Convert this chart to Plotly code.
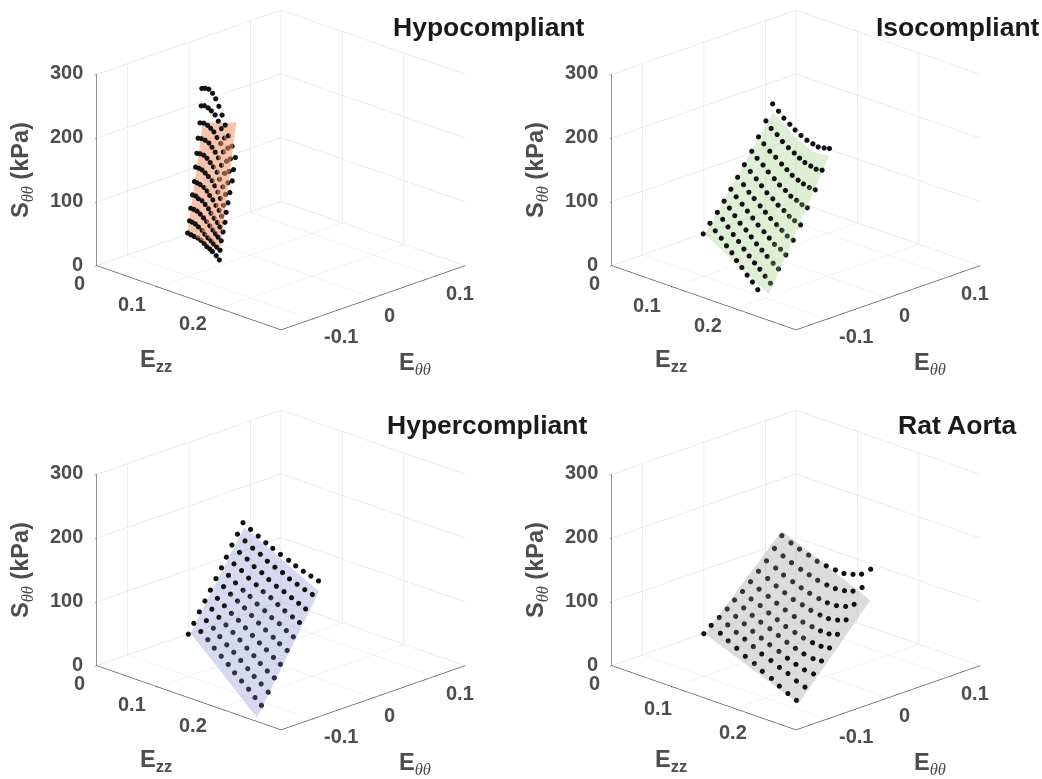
import plotly.graph_objects as go

W, H = 1042, 779
# Circumferential strain is stored in thousandths, stress in kPa.
hypo_ezz = [0.075,0.0802,0.0853,0.0905,0.0956,0.1008,0.106,0.1111,0.1163,0.1214,0.1266]
hypo_ett = [[-77,-77,-77,-76,-76,-76,-77,-77,-78,-77,-77],
[-74,-75,-75,-75,-74,-75,-75,-75,-76,-76,-76],
[-72,-72,-72,-72,-72,-72,-72,-72,-73,-74,-74],
[-69,-69,-70,-69,-69,-69,-70,-70,-70,-71,-71],
[-66,-67,-67,-66,-66,-67,-67,-67,-67,-68,-68],
[-64,-64,-64,-64,-64,-63,-64,-64,-65,-65,-66],
[-62,-62,-61,-61,-61,-61,-60,-61,-61,-62,-63],
[-60,-60,-59,-58,-58,-58,-58,-58,-58,-58,-60],
[-57,-56,-55,-55,-55,-55,-54,-55,-55,-56,-56],
[-55,-55,-54,-54,-53,-53,-53,-53,-53,-54,-54],
[-54,-54,-53,-52,-52,-52,-52,-52,-52,-51,-51]]
hypo_s = [[52,51,50,49,47,44,41,39,37,32,27],
[70,70,69,66,62,58,54,51,48,45,42],
[89,89,88,85,81,77,72,67,63,60,56],
[109,109,107,105,101,96,91,85,80,75,69],
[129,129,128,125,121,116,111,104,98,91,83],
[151,151,150,147,143,138,132,124,116,107,98],
[172,173,172,169,164,159,152,143,133,123,112],
[195,196,195,192,187,181,174,164,153,140,127],
[218,219,217,214,210,203,195,184,171,157,144],
[244,246,244,241,236,228,218,205,191,176,161],
[271,273,273,268,261,251,239,225,210,195,179]]
hypo_surf_ezz = [[0.075,0.127],[0.075,0.127]]
hypo_surf_ett = [[-77,-76],[-52,-50]]
hypo_surf_s = [[53,41],[217,234]]

iso_ezz = [0.0999,0.1085,0.1172,0.1258,0.1345,0.1431,0.1517,0.1604,0.169,0.1777,0.1863]
iso_ett = [[-101],
[-90,-90,-89,-89,-89,-90,-90,-90,-90,-90],
[-78,-78,-78,-78,-78,-78,-78,-78,-78,-78,-78],
[-67,-67,-67,-67,-66,-66,-66,-66,-66,-65,-65],
[-56,-56,-55,-55,-55,-55,-54,-54,-54,-53,-53],
[-45,-44,-44,-44,-43,-43,-43,-42,-42,-42,-41],
[-34,-33,-32,-32,-32,-31,-31,-30,-30,-30,-29],
[-22,-22,-21,-21,-20,-20,-19,-19,-18,-18,-18],
[-11,-11,-10,-9,-8,-8,-8,-7,-7,-6,-5],
[1,1,2,2,3,4,4,4,5,5,6],
[12,13,13,14,14,15,16,17,17,18,18]]
iso_s = [[67],
[80,71,62,53,45,36,28,19,11,2],
[93,85,76,67,59,50,42,34,27,19,11],
[107,99,90,81,73,65,57,50,43,35,29],
[122,113,104,96,88,80,72,65,58,53,47],
[137,128,119,112,103,96,89,82,76,70,66],
[153,145,136,128,120,113,106,100,94,90,86],
[170,162,154,146,138,131,125,119,115,111,109],
[189,181,172,165,157,151,145,140,137,134,133],
[210,201,194,186,179,173,168,164,161,159,160],
[233,224,216,209,203,197,192,189,187,188,190]]
iso_surf_ezz = [[0.1,0.129,0.158,0.195],[0.1,0.129,0.158,0.186]]
iso_surf_ett = [[-98,-92,-86,-89],[13,22,21,18]]
iso_surf_s = [[65,41,17,0],[220,184,174,178]]

hyper_ezz = [0.117,0.1284,0.1398,0.1512,0.1626,0.174,0.1854,0.1968,0.2082,0.2196,0.231]
hyper_ett = [[-118],
[-109,-109,-109,-110,-110,-110,-111,-111,-111,-112,-113],
[-100,-100,-100,-101,-101,-101,-101,-101,-102,-102,-102],
[-91,-91,-91,-91,-91,-91,-91,-91,-92,-92,-92],
[-82,-82,-82,-82,-82,-82,-82,-82,-82,-82,-82],
[-73,-72,-72,-72,-72,-72,-72,-72,-71,-72,-71],
[-64,-64,-64,-63,-63,-63,-62,-62,-61,-61,-61],
[-56,-55,-54,-54,-53,-53,-52,-52,-52,-51,-51],
[-47,-46,-45,-45,-44,-44,-43,-42,-41,-41,-41],
[-38,-37,-36,-35,-35,-34,-33,-33,-32,-31,-30],
[-29,-28,-27,-26,-26,-25,-23,-23,-22,-21,-20]]
hyper_s = [[78],
[92,83,74,65,56,47,38,29,20,11,3],
[107,97,89,80,71,63,54,45,37,29,20],
[121,112,103,95,87,79,70,62,54,46,39],
[135,126,118,110,103,95,87,79,72,64,57],
[150,141,133,126,119,111,103,96,88,82,75],
[164,156,148,140,134,126,119,112,106,99,93],
[178,171,164,156,149,142,136,129,123,117,112],
[194,186,179,171,165,158,151,146,140,135,130],
[208,201,193,187,180,174,169,163,158,153,149],
[223,216,209,202,197,191,185,180,175,171,167]]
hyper_surf_ezz = [[0.117,0.252],[0.117,0.231]]
hyper_surf_ett = [[-114,-141],[-27,-19]]
hyper_surf_s = [[78,0],[215,150]]

rat_ezz = [0.0999,0.1138,0.1276,0.1415,0.1554,0.1692,0.1831,0.197,0.2108,0.2247,0.2385]
rat_ett = [[-100],
[-88,-87,-88,-88,-88,-87,-88,-87,-88,-88,-88],
[-75,-75,-75,-75,-75,-75,-74,-74,-74,-74,-74],
[-62,-62,-62,-62,-62,-62,-61,-61,-61,-61,-60],
[-50,-49,-49,-49,-48,-48,-48,-48,-48,-47,-47],
[-37,-37,-36,-36,-36,-36,-35,-35,-34,-34,-34],
[-24,-24,-23,-23,-23,-22,-22,-21,-21,-21,-21],
[-11,-10,-10,-10,-10,-9,-9,-8,-8,-7,-7],
[2,3,2,3,3,3,4,4,5,6,6],
[15,15,15,16,16,16,17,17,18,18,19],
[27,28,28,29,29,30,31,31,32,32,33]]
rat_s = [[67],
[76,68,61,54,46,39,32,25,18,11,5],
[84,77,70,64,57,50,44,38,33,26,21],
[93,86,79,72,66,60,54,48,43,39,37],
[103,95,88,82,76,70,64,59,55,52,53],
[112,105,99,92,86,80,75,71,68,67,69],
[123,116,109,103,97,91,87,84,82,82,86],
[135,128,121,115,109,105,101,98,97,99,104],
[147,140,134,128,123,119,115,113,113,116,124],
[162,155,149,143,139,135,132,131,132,136,146],
[178,171,166,161,156,153,151,150,153,158,170]]
rat_surf_ezz = [[0.1,0.241],[0.1,0.238]]
rat_surf_ett = [[-98,-87],[27,33]]
rat_surf_s = [[66,0],[186,121]]

titles = ['Hypocompliant','Isocompliant','Hypercompliant','Rat Aorta']
title_px = [(489,27),(958,27),(487,425),(957,425)]
ezz_ticks = [0,0.1,0.2]
ezz_labels = ['0','0.1','0.2']
ett_ticks = [-0.1,0,0.1]
ett_labels = ['-0.1','0','0.1']
s_ticks = [0,100,200,300]
panels = [
 (hypo_ezz,hypo_ett,hypo_s,hypo_surf_ezz,hypo_surf_ett,hypo_surf_s,'#F2946A',0.55),
 (iso_ezz,iso_ett,iso_s,iso_surf_ezz,iso_surf_ett,iso_surf_s,'#8ECA73',0.3),
 (hyper_ezz,hyper_ett,hyper_s,hyper_surf_ezz,hyper_surf_ett,hyper_surf_s,'#7A80D0',0.3),
 (rat_ezz,rat_ett,rat_s,rat_surf_ezz,rat_surf_ett,rat_surf_s,'#8A8A8A',0.3),
]
centers = [(281,170),(796,170),(281,570),(796,570)]
ezz_shift = [[(-17,-17),(-26,-17),(-27,-15)],[(-17,-17),(-26,-18),(-27,-17)],
             [(-17,-17),(-26,-17),(-27,-17)],[(-17,-17),(-15,-21),(-2,-24)]]
ett_shift = [(29,-17),(16,-17),(25,-17)]
HALF_W, HALF_H = 240, 170
EYE = 1.25
SCALE = 1.533
TXT = '#4D4D4D'
LBL = dict(family='Liberation Sans', size=23.5, color=TXT)
TICK = dict(family='Liberation Sans', size=20, color=TXT)
THETA = '<span style="font-family:\'Liberation Serif\'"><i>θθ</i></span>'

fig = go.Figure()
layout = dict(width=W, height=H, margin=dict(l=0,r=0,t=0,b=0), paper_bgcolor='white', showlegend=False)
ann = []
for k,(ezz,ett,s,se,st,ss,col,op) in enumerate(panels):
    sc = 'scene' + ('' if k==0 else str(k+1))
    fig.add_trace(go.Surface(scene=sc, x=se, y=[[v/1000 for v in r] for r in st], z=ss,
        surfacecolor=[[0]*len(r) for r in ss], colorscale=[[0,col],[1,col]], cmin=0, cmax=1,
        showscale=False, opacity=op, hoverinfo='skip',
        lighting=dict(ambient=1,diffuse=0,specular=0,fresnel=0,roughness=1)))
    xs,ys,zs=[],[],[]
    for rt,rs in zip(ett,s):
        for j,(t,v) in enumerate(zip(rt,rs)):
            xs.append(ezz[j]); ys.append(t/1000); zs.append(v)
    fig.add_trace(go.Scatter3d(scene=sc, x=xs,y=ys,z=zs,mode='markers',
        marker=dict(size=3,color='#111111',line=dict(width=0)),hoverinfo='skip'))
    cx,cy = centers[k]
    ax = dict(showbackground=False,showspikes=False,zeroline=False,gridcolor='#DCDCDC',gridwidth=1,
              showline=True,linecolor='#555555',linewidth=1.5,ticks='inside',ticklen=3,tickcolor='#555555',
              title=dict(text=''),showticklabels=False)
    sa = []
    for v,(sx,sy),t in zip(ezz_ticks,ezz_shift[k],ezz_labels):
        sa.append(dict(x=v,y=-0.15,z=0,text='<b>%s</b>'%t,xshift=sx,yshift=sy))
    for v,(sx,sy),t in zip(ett_ticks,ett_shift,ett_labels):
        sa.append(dict(x=0.3,y=v,z=0,text='<b>%s</b>'%t,xshift=sx,yshift=sy))
    for v in s_ticks:
        sa.append(dict(x=0,y=-0.15,z=v,text='<b>%d</b>'%v,xanchor='right',xshift=-12,yshift=2))
    for a in sa:
        a.update(showarrow=False,font=TICK)
    layout[sc] = dict(
        domain=dict(x=[(cx-HALF_W)/W,(cx+HALF_W)/W], y=[1-(cy+HALF_H)/H,1-(cy-HALF_H)/H]),
        xaxis=dict(ax,range=[0,0.3],tickmode='array',tickvals=ezz_ticks),
        yaxis=dict(ax,range=[-0.15,0.15],tickmode='array',tickvals=ett_ticks),
        zaxis=dict(ax,range=[0,300],tickmode='array',tickvals=s_ticks),
        aspectmode='manual',aspectratio=dict(x=SCALE,y=SCALE,z=0.783*SCALE),
        camera=dict(eye=dict(x=EYE,y=-EYE,z=EYE*0.526),center=dict(x=0,y=0,z=0),up=dict(x=0,y=0,z=1),
                    projection=dict(type='orthographic')),
        annotations=sa,
        bgcolor='white')
    dx = 0 if k%2==0 else 515
    dy = 0 if k<2 else 400
    def A(px,py,text,font=LBL,angle=0):
        ann.append(dict(xref='paper',yref='paper',x=px/W,y=1-py/H,text=text,showarrow=False,font=font,
                        textangle=angle,xanchor='center',yanchor='middle'))
    A(156+dx,360+dy,'<b>E<sub>zz</sub></b>')
    A(415+dx,364+dy,'<b>E</b><sub>%s</sub>'%THETA)
    A(22+dx,170+dy,'<b>S</b><sub>%s</sub><b> (kPa)</b>'%THETA,angle=-90)
    A(title_px[k][0],title_px[k][1],'<b>%s</b>'%titles[k],font=dict(family='Liberation Sans',size=26.5,color='#1A1A1A'))
layout['annotations']=ann
fig.update_layout(**layout)
fig.write_html('out.html',config=dict(displayModeBar=False),post_script="document.body.style.margin='0';")
